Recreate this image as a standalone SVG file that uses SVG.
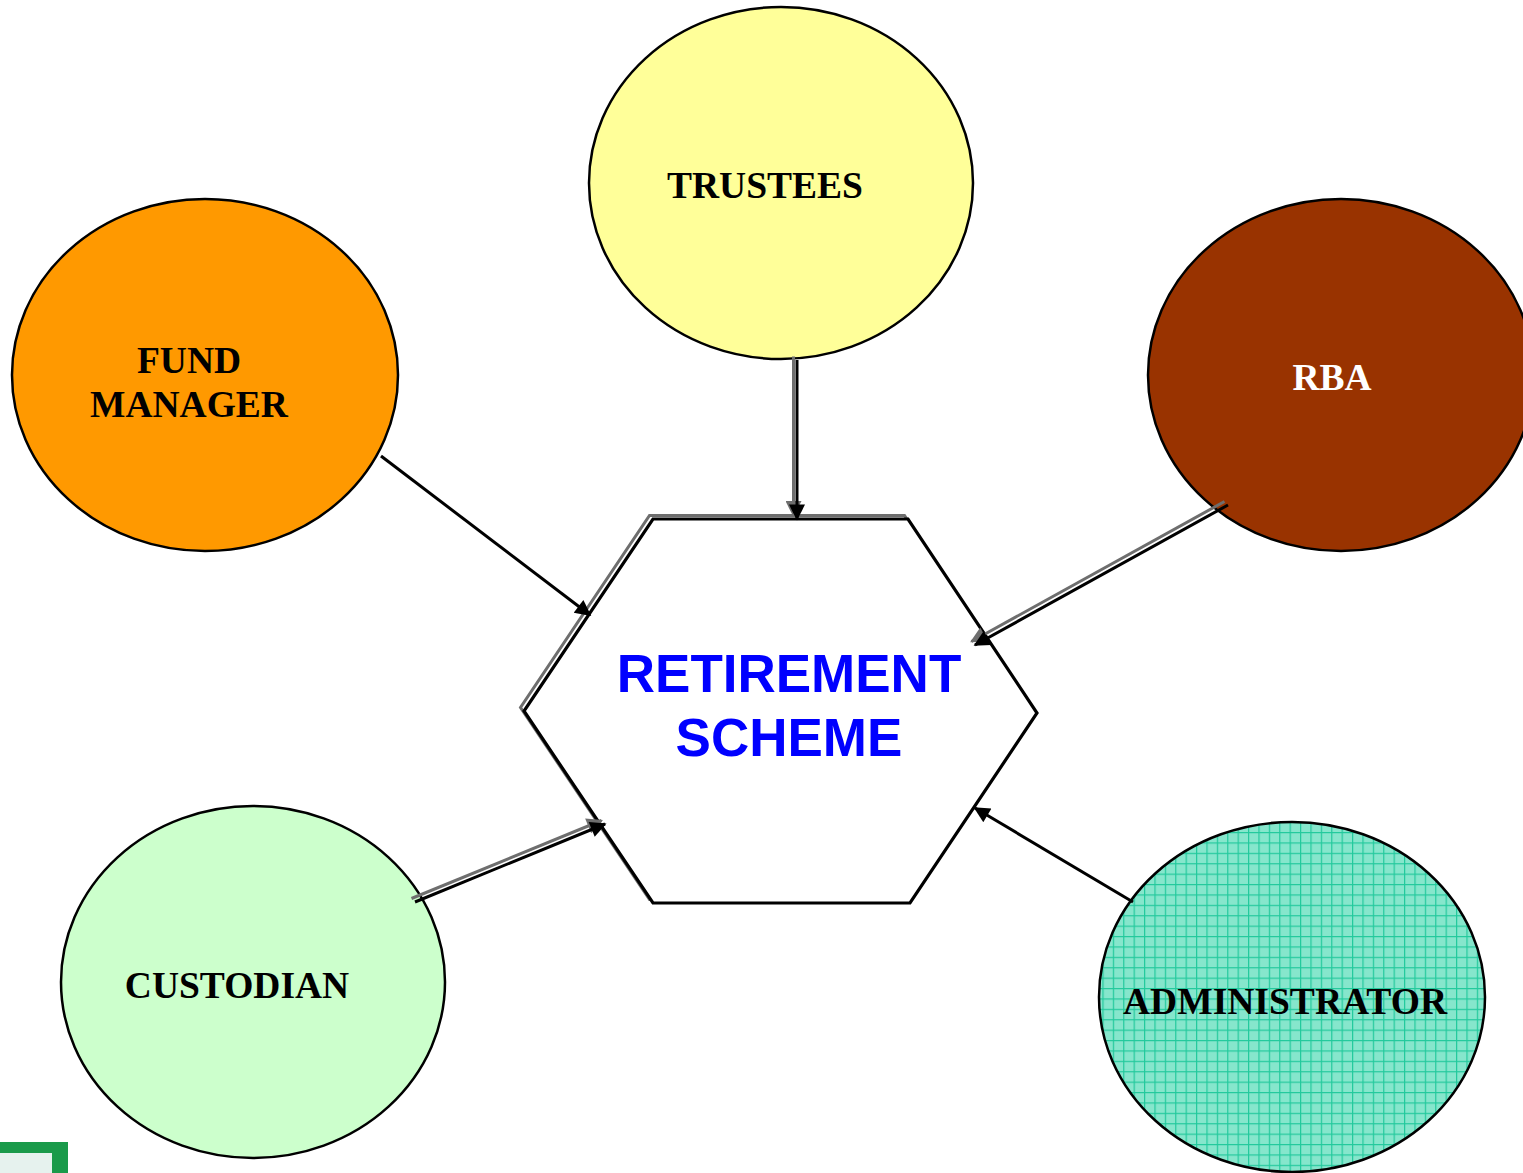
<svg xmlns="http://www.w3.org/2000/svg" width="1523" height="1173" viewBox="0 0 1523 1173">
<style>
.node{stroke:#000;stroke-width:2.5}
.lbl{font-family:"Liberation Serif","Times New Roman",serif;font-weight:bold;font-size:37.5px;text-anchor:middle}
.main{font-family:"Liberation Sans",Arial,sans-serif;font-weight:bold;font-size:53px;text-anchor:middle;fill:#0000ff}
.sh{stroke:#6e6e6e;stroke-width:3;fill:none}
.ln{stroke:#000;stroke-width:3;fill:none}
</style>
<defs>
<pattern id="grid" width="10.4" height="10.4" patternUnits="userSpaceOnUse">
<rect width="10.4" height="10.4" fill="#86e6cc"/>
<path d="M0 0.6H10.4M0.6 0V10.4" stroke="#22c99c" stroke-width="1.2"/>
</pattern>
<marker id="ah" viewBox="0 0 10 10" refX="9" refY="5" markerWidth="20" markerHeight="16" markerUnits="userSpaceOnUse" orient="auto">
<path d="M0 0L10 5L0 10Z" fill="#000"/>
</marker>
<marker id="ahs" viewBox="0 0 10 10" refX="9" refY="5" markerWidth="20" markerHeight="16" markerUnits="userSpaceOnUse" orient="auto">
<path d="M0 0L10 5L0 10Z" fill="#6e6e6e"/>
</marker>
</defs>
<rect width="1523" height="1173" fill="#fff"/>

<g id="trustees">
<ellipse class="node" cx="781" cy="183" rx="192" ry="176" fill="#ffff99"/>
<text class="lbl" x="765" y="198" fill="#000">TRUSTEES</text>
</g>
<g id="fund-manager">
<ellipse class="node" cx="205" cy="375" rx="193" ry="176" fill="#ff9900"/>
<text class="lbl" x="189" y="373" fill="#000">FUND</text>
<text class="lbl" x="189" y="417" fill="#000">MANAGER</text>
</g>
<g id="rba">
<ellipse class="node" cx="1341" cy="375" rx="193" ry="176" fill="#993300"/>
<text class="lbl" x="1332" y="390" fill="#fff">RBA</text>
</g>
<g id="custodian">
<ellipse class="node" cx="253" cy="982" rx="192" ry="176" fill="#ccffcc"/>
<text class="lbl" x="237" y="998" fill="#000">CUSTODIAN</text>
</g>
<g id="administrator">
<ellipse class="node" cx="1292" cy="997" rx="193" ry="175" fill="url(#grid)"/>
<text class="lbl" x="1285" y="1014" fill="#000" textLength="324" lengthAdjust="spacingAndGlyphs">ADMINISTRATOR</text>
</g>

<g id="retirement-scheme">
<polygon class="sh" points="653,519 908,519 1037,713 910,903 653,903 524,711" transform="translate(-3.5,-3.5)" stroke-width="3.2"/>
<polygon points="653,519 908,519 1037,713 910,903 653,903 524,711" fill="#fff" stroke="#000" stroke-width="3.2"/>
<text class="main" x="789" y="692">RETIREMENT</text>
<text class="main" x="789" y="756">SCHEME</text>
</g>

<g id="connectors">
<g transform="translate(-3.5,-3.5)">
<line class="sh" x1="797" y1="360" x2="797" y2="519" marker-end="url(#ahs)"/>
<line class="sh" x1="1228" y1="505" x2="975" y2="645" marker-end="url(#ahs)"/>
<line class="sh" x1="415" y1="902" x2="605" y2="824" marker-end="url(#ahs)"/>
</g>
<line class="ln" x1="381" y1="456" x2="590" y2="615" marker-end="url(#ah)"/>
<line class="ln" x1="797" y1="360" x2="797" y2="519" marker-end="url(#ah)"/>
<line class="ln" x1="1228" y1="505" x2="975" y2="645" marker-end="url(#ah)"/>
<line class="ln" x1="415" y1="902" x2="605" y2="824" marker-end="url(#ah)"/>
<line class="ln" x1="1133" y1="902" x2="975" y2="808" marker-end="url(#ah)"/>
</g>

<g id="corner-logo">
<rect x="0" y="1142" width="68" height="31" fill="#1a9a4a"/>
<rect x="0" y="1153" width="52" height="20" fill="#e6f2ee"/>
</g>
</svg>
